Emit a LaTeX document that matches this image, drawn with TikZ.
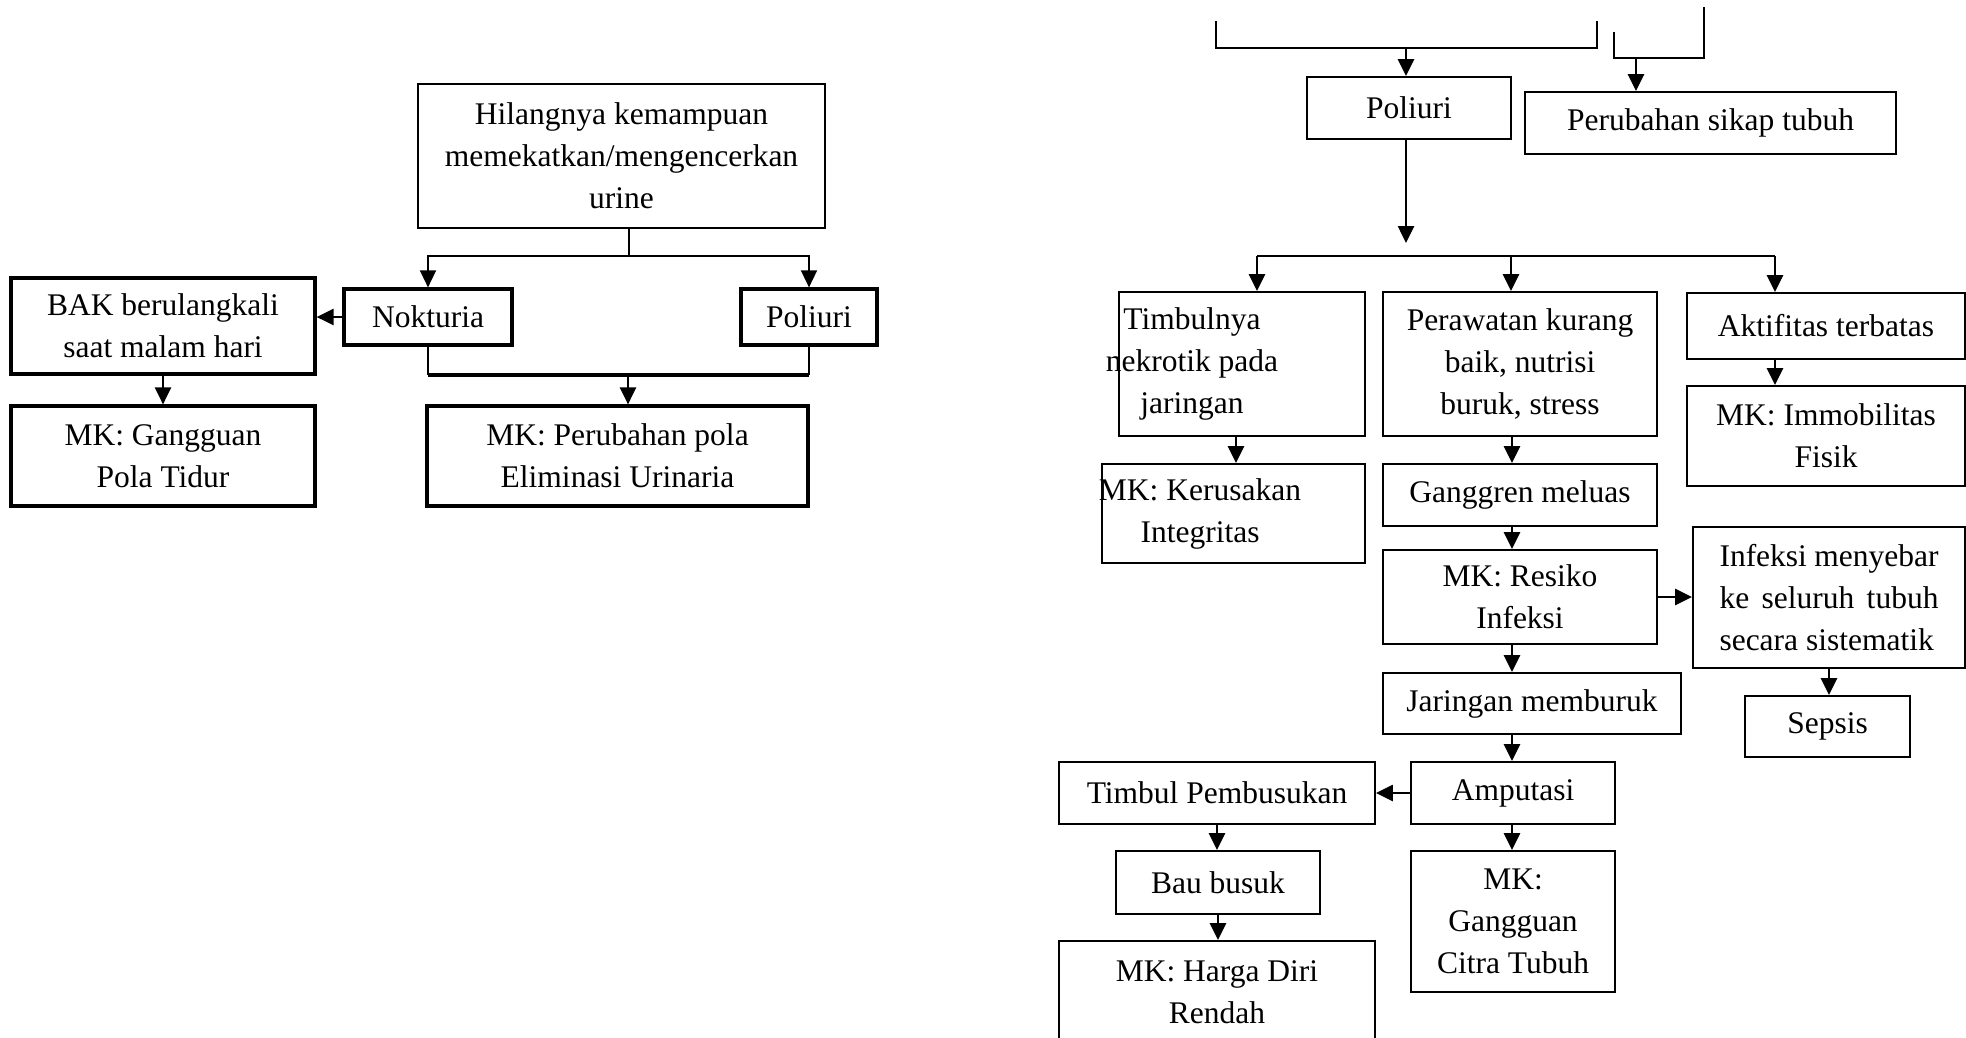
\documentclass[tikz,border=0pt]{standalone}
\usepackage{fontspec}
\setmainfont{Liberation Serif}
\usetikzlibrary{arrows.meta,positioning,calc}

\begin{document}
\begin{tikzpicture}[
  x=1pt,
  y=-1pt,
  wh/.style 2 args={minimum width=#1pt, minimum height=#2pt},
  box/.style={draw, line width=1.9pt, inner sep=2pt, align=center, font=\fontsize{31.5}{42}\selectfont},
  thinbox/.style={box, line width=1.3pt},
  boldbox/.style={box, line width=3.2pt},
  txt/.style={inner sep=0pt, align=center, font=\fontsize{31.5}{42}\selectfont},
  link/.style={line width=1.5pt},
  boldlink/.style={line width=3.2pt},
  arr/.style={line width=2.6pt, -{Triangle[length=17pt, width=16pt]}},
  arrthin/.style={link, -{Triangle[length=17pt, width=16pt]}},
]
\useasboundingbox (0,0) rectangle (1966,1037);
\clip (0,0) rectangle (1966,1037);

% Left chart
\node[thinbox, wh={407}{144}] (hilang) at (621.5,156) {Hilangnya kemampuan\\memekatkan/mengencerkan\\urine};
\node[boldbox, wh={168}{56}] (noktur) at (428,317) {Nokturia};
\node[boldbox, wh={136}{56}] (poliL)  at (809,317) {Poliuri};
\node[boldbox, wh={304}{96}] (bak)    at (163,326) {BAK berulangkali\\saat malam hari};
\node[boldbox, wh={304}{100}] (tidur) at (163,456) {MK: Gangguan\\Pola Tidur};
\node[boldbox, wh={381}{100}] (elim)  at (617.5,456) {MK: Perubahan pola\\Eliminasi Urinaria};

% Left chart: connectors
\coordinate (splitL) at (629,256);
\coordinate (joinL) at (628,375);
\draw[link] (hilang.south -| splitL) -- (splitL);
\draw[arrthin] (splitL) -| (noktur.north);
\draw[arrthin] (splitL) -| (poliL.north);
\draw[arr] (noktur.west) -- (bak.east |- noktur.west);
\draw[arr] (bak.south) -- (tidur.north);
\draw[link] (noktur.south) -- (noktur.south |- joinL);
\draw[link] (poliL.south) -- (poliL.south |- joinL);
\draw[boldlink] (noktur.south |- joinL) -- (poliL.south |- joinL);
\draw[arr] (joinL) -- (joinL |- elim.north);

% Right chart: top row
\node[box, wh={204}{62}] (poliR) at (1409,108) {Poliuri};
\node[box, wh={371}{62}] (sikap) at (1710.5,123) {Perubahan sikap tubuh};

% Right chart: three columns
\node[box, wh={246}{144}] (timbul) at (1242,364) {};
\node[txt] (timbulT) at (1192,364) {Timbulnya\\nekrotik pada\\jaringan};
\node[box, wh={274}{144}] (rawat) at (1520,364) {Perawatan kurang\\baik, nutrisi\\buruk, stress};
\node[box, wh={278}{66}]  (aktif) at (1826,326) {Aktifitas terbatas};
\node[box, wh={278}{100}] (immob) at (1826,436) {MK: Immobilitas\\Fisik};
\node[box, wh={263}{99}]  (kerus) at (1233.5,513.5) {};
\node[txt] (kerusT) at (1200,513.5) {MK: Kerusakan\\Integritas};
\node[box, wh={274}{62}]  (ganggr) at (1520,495) {Ganggren meluas};
\node[box, wh={274}{94}]  (resiko) at (1520,597) {MK: Resiko\\Infeksi};
\node[box, wh={272}{141}, align=left] (infeksi) at (1829,597.5)
  {\makebox[219pt][s]{Infeksi menyebar}\\\makebox[219pt][s]{ke seluruh tubuh}\\secara sistematik};
\node[box, wh={165}{61}]  (sepsis) at (1827.5,726.5) {Sepsis};
\node[box, wh={298}{61}]  (jaring) at (1532,703.5) {Jaringan memburuk};
\node[box, wh={204}{62}]  (amput)  at (1513,793) {Amputasi};
\node[box, wh={316}{62}]  (busuk)  at (1217,793) {Timbul Pembusukan};
\node[box, wh={204}{63}]  (bau)    at (1218,882.5) {Bau busuk};
\node[box, wh={316}{102}] (harga)  at (1217,992) {MK: Harga Diri\\Rendah};
\node[box, wh={204}{141}] (citra)  at (1513,921.5) {MK:\\Gangguan\\Citra Tubuh};

% Right chart: brackets from above
\coordinate (brA) at (1216,21);
\coordinate (brB) at (1597,21);
\coordinate (brAm) at (1406,48);
\coordinate (brC) at (1614,32);
\coordinate (brD) at (1704,7);
\coordinate (brCm) at (1636,58);
\draw[link] (brA) |- (brB |- brAm) -- (brB);
\draw[link] (brC) |- (brD |- brCm) -- (brD);
\draw[arr] (brAm) -- (brAm |- poliR.north);
\draw[arr] (brCm) -- (brCm |- sikap.north);

% Right chart: split below Poliuri
\coordinate (poliEnd) at (1406,243);
\coordinate (sp1) at (1257,256);
\coordinate (sp2) at (1511,256);
\coordinate (sp3) at (1775,256);
\draw[arr] (poliR.south -| poliEnd) -- (poliEnd);
\draw[link] (sp1) -- (sp3);
\foreach \s/\b in {sp1/timbul, sp2/rawat, sp3/aktif}
  \draw[arr] (\s) -- (\s |- \b.north);

% Right chart: arrows down the middle column
\coordinate (spine) at (1512,0);
\foreach \a/\b in {rawat/ganggr, ganggr/resiko, resiko/jaring, jaring/amput, amput/citra}
  \draw[arr] (\a.south -| spine) -- (\b.north -| spine);

% Right chart: other arrows
\coordinate (colA) at (1236,0);
\draw[arr] (timbul.south -| colA) -- (kerus.north -| colA);
\draw[arr] (aktif.south -| sp3) -- (immob.north -| sp3);
\draw[arr] (resiko.east) -- (infeksi.west |- resiko.east);
\draw[arr] (infeksi.south) -- (infeksi.south |- sepsis.north);
\draw[arr] (amput.west) -- (busuk.east |- amput.west);
\draw[arr] (busuk.south) -- (busuk.south |- bau.north);
\draw[arr] (bau.south) -- (bau.south |- harga.north);

\end{tikzpicture}
\end{document}
